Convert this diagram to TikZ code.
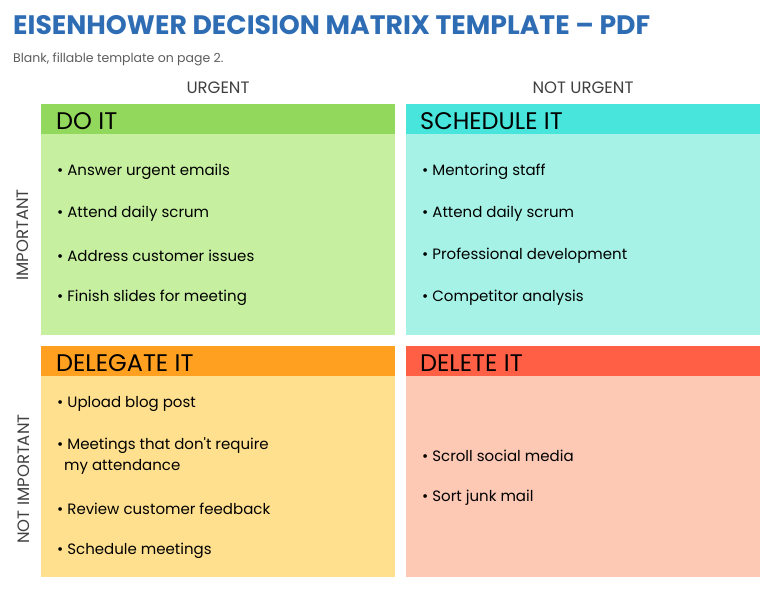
\documentclass[tikz,border=0pt]{standalone}
\usepackage{fontspec}
\setmainfont{Poppins}
\definecolor{titleblue}{HTML}{2E6DB4}
\definecolor{labelgray}{HTML}{404040}
\definecolor{dohead}{HTML}{92D85C}
\definecolor{dobody}{HTML}{C6F0A0}
\definecolor{schedhead}{HTML}{48E5DC}
\definecolor{schedbody}{HTML}{A6F2E6}
\definecolor{delegatehead}{HTML}{FFA021}
\definecolor{delegatebody}{HTML}{FFE08E}
\definecolor{deletehead}{HTML}{FF5F44}
\definecolor{deletebody}{HTML}{FDC8B4}
\tikzset{
  head/.style={anchor=north west, minimum width=354pt, minimum height=30pt, inner sep=0pt},
  body/.style={anchor=north west, minimum width=354pt, minimum height=201pt, inner sep=0pt},
  headtext/.style={anchor=west, inner sep=0pt, font=\fontsize{24}{28}\selectfont},
  item/.style={anchor=west, inner sep=0pt, align=left, font=\fontsize{15}{21}\selectfont},
  axis/.style={inner sep=0pt, text=labelgray, font=\fontsize{16.5}{20}\selectfont}
}
\begin{document}
\begin{tikzpicture}[x=1pt, y=-1pt, line join=round, line cap=round]
	\def \xl{41};
	\def \xr{406};
	\def \yt{104};
	\def \yb{346};
	\useasboundingbox (0,0) rectangle (776,599);
	% title and subtitle
	\node[anchor=base west, inner sep=0pt, text=titleblue, font=\fontsize{26.7}{30}\selectfont\bfseries] (title) at (13,35) {EISENHOWER DECISION MATRIX TEMPLATE – PDF};
	\node[anchor=base west, inner sep=0pt, text=labelgray!85, font=\fontsize{12.5}{15}\selectfont] (sub) at (13,63) {Blank, fillable template on page 2.};
	% column and row labels
	\node[axis] (urgent) at (218,88) {URGENT};
	\node[axis] (noturgent) at (583,88) {NOT URGENT};
	\node[axis, rotate=90] (imp) at (23,235) {IMPORTANT};
	\node[axis, rotate=90] (notimp) at (24,479) {NOT IMPORTANT};
	% quadrants
	\node[body, fill=dobody] (dobox) at (\xl,\yt+30) {};
	\node[head, fill=dohead] (dotop) at (\xl,\yt) {};
	\node[body, fill=schedbody] (schedbox) at (\xr,\yt+30) {};
	\node[head, fill=schedhead] (schedtop) at (\xr,\yt) {};
	\node[body, fill=delegatebody] (delegatebox) at (\xl,\yb+30) {};
	\node[head, fill=delegatehead] (delegatetop) at (\xl,\yb) {};
	\node[body, fill=deletebody] (deletebox) at (\xr,\yb+30) {};
	\node[head, fill=deletehead] (deletetop) at (\xr,\yb) {};
	\node[headtext] (dotitle) at (56,\yt+17) {DO IT};
	\node[headtext] (schedtitle) at (420,\yt+17) {SCHEDULE IT};
	\node[headtext] (delegatetitle) at (56,\yb+17) {DELEGATE IT};
	\node[headtext] (deletetitle) at (420,\yb+17) {DELETE IT};
	% items
	\foreach \t [count=\i] in {Answer urgent emails, Attend daily scrum, Address customer issues, Finish slides for meeting}
		\node[item] (do\i) at (57,{172+42*(\i-1)}) {\textbullet\ \t};
	\foreach \t [count=\i] in {Mentoring staff, Attend daily scrum, Professional development, Competitor analysis}
		\node[item] (sched\i) at (422,{172+42*(\i-1)}) {\textbullet\ \t};
	\node[item] (delegate1) at (57,404) {\textbullet\ Upload blog post};
	\node[item] (delegate2) at (57,456) {\textbullet\ Meetings that don\textquotesingle t require\\\hspace{7pt}my attendance};
	\node[item] (delegate3) at (57,509) {\textbullet\ Review customer feedback};
	\node[item] (delegate4) at (57,551) {\textbullet\ Schedule meetings};
	\node[item] (delete1) at (422,456) {\textbullet\ Scroll social media};
	\node[item] (delete2) at (422,498) {\textbullet\ Sort junk mail};
\end{tikzpicture}
\end{document}
